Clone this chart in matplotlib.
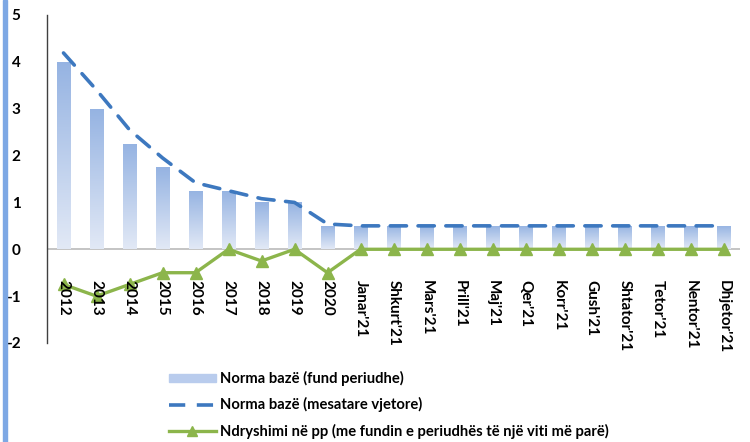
import matplotlib
matplotlib.use("Agg")
import matplotlib.pyplot as plt
import numpy as np
from matplotlib.patches import Rectangle
from matplotlib.lines import Line2D
from matplotlib.colors import LinearSegmentedColormap

categories = ["2012", "2013", "2014", "2015", "2016", "2017", "2018", "2019", "2020",
              "Janar'21", "Shkurt'21", "Mars'21", "Prill'21", "Maj'21", "Qer'21",
              "Korr'21", "Gush'21", "Shtator'21", "Tetor'21", "Nentor'21", "Dhjetor'21"]
norma_fund = [4.0, 3.0, 2.25, 1.75, 1.25, 1.25, 1.0, 1.0, 0.5,
              0.5, 0.5, 0.5, 0.5, 0.5, 0.5, 0.5, 0.5, 0.5, 0.5, 0.5, 0.5]
norma_mesatare = [4.19, 3.4, 2.55, 1.95, 1.42, 1.25, 1.08, 1.0, 0.54,
                  0.5, 0.5, 0.5, 0.5, 0.5, 0.5, 0.5, 0.5, 0.5, 0.5, 0.5, 0.5]
ndryshimi = [-0.75, -1.0, -0.75, -0.5, -0.5, 0.0, -0.25, 0.0, -0.5,
             0.0, 0.0, 0.0, 0.0, 0.0, 0.0, 0.0, 0.0, 0.0, 0.0, 0.0, 0.0]
yticks = [-2, -1, 0, 1, 2, 3, 4, 5]

plt.rcParams['font.family'] = ['Lato', 'DejaVu Sans']
fig = plt.figure(figsize=(7.5, 4.42), dpi=100)
ax = fig.add_axes([47/750, 1-343/442, (740-47)/750, (343-15)/442])

x = np.arange(len(categories))
bars = ax.bar(x, norma_fund, width=0.42, color='#b4c8ea', edgecolor='none', zorder=2)
grad = np.linspace(0, 1, 256).reshape(-1, 1)
cmap = LinearSegmentedColormap.from_list('g', ['#e2e9f6', '#95b3e2'])
for b in bars:
    x0, y0 = b.get_x(), b.get_y()
    w, h = b.get_width(), b.get_height()
    im = ax.imshow(grad, cmap=cmap, aspect='auto',
                   extent=[x0, x0 + w, y0, y0 + h], zorder=2.1, origin='lower')
    im.set_clip_path(b)

ax.plot(x, norma_mesatare, color='#3d78bf', lw=2.6, dashes=(4.5, 3.2), zorder=3,
        dash_capstyle='round')
ax.plot(x, ndryshimi, color='#8cb54b', lw=2.4, marker='^', markersize=8.5, zorder=4)

ax.set_xlim(-0.5, len(categories) - 0.5)
ax.set_ylim(-2, 5)
ax.axhline(0, color='#bfbfbf', lw=1.3, zorder=1.5)

ax.spines['bottom'].set_position(('data', 0))
for s in ['top', 'right', 'bottom']:
    ax.spines[s].set_visible(False)
ax.spines['left'].set_color('#404040')
ax.spines['left'].set_linewidth(1.0)

ax.set_yticks(yticks)
ax.set_yticklabels([str(t) for t in yticks], fontsize=11, fontweight='bold')
ax.tick_params(axis='y', length=0, pad=19)
ax.set_xticks(x)
ax.set_xticklabels(categories, rotation=270, fontsize=11, fontweight='bold',
                   va='top', ha='center')
ax.tick_params(axis='x', length=0, pad=22)
ax.xaxis.set_zorder(5)

fig.patches.append(Rectangle((3/750, 0), 4/750, 1, transform=fig.transFigure,
                             color='#7ea8e4', zorder=0))

handles = [Rectangle((0, 0), 1, 1, color='#b9cced'),
           Line2D([], [], color='#3d78bf', lw=2.6, dashes=(4.5, 3.2)),
           Line2D([], [], color='#8cb54b', lw=2.4, marker='^', markersize=7)]
labels = ['Norma bazë (fund periudhe)', 'Norma bazë (mesatare vjetore)',
          'Ndryshimi në pp (me fundin e periudhës të një viti më parë)']
fig.legend(handles, labels, loc='upper left', bbox_to_anchor=(163/750, 1-365/442),
           frameon=False, prop={'weight': 'bold', 'size': 10.6}, handlelength=3.2,
           handleheight=0.5, labelspacing=0.78, handletextpad=0.3, borderaxespad=0)

fig.savefig('out.png', dpi=100)
